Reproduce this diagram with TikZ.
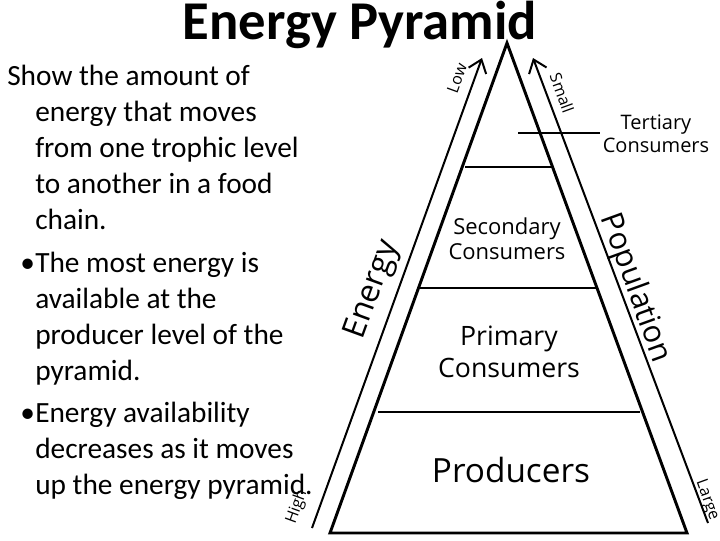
\documentclass[tikz,border=0pt]{standalone}
\usepackage{fontspec}
\setmainfont{Carlito}
\newfontfamily\cf{Open Sans}
\usetikzlibrary{arrows.meta}
\begin{document}
\begin{tikzpicture}[x=0.75pt,y=-0.75pt,
  side/.style={line width=2.2pt,line join=miter},
  lvl/.style={line width=1.8pt},
  arr/.style={line width=1.5pt,-{Straight Barb[length=9pt,width=14pt,line width=1.5pt]}},
  body/.style={anchor=base west,font=\fontsize{22}{22}\selectfont,inner sep=0pt},
  lab/.style={font=\cf\fontsize{#1}{#1}\selectfont,align=center,inner sep=0pt},
  lab/.default=17]
\useasboundingbox (0,0) rectangle (720,540);
\node[font=\bfseries\fontsize{41}{41}\selectfont,inner sep=0pt] (title) at (360,25) {Energy Pyramid};
\foreach \t/\x/\y in {{Show the amount of}/7/85,{energy that moves}/35/121,{from one trophic level}/35/157,{to another in a food}/35/193,{chain.}/35/229,{The most energy is}/35/272,{available at the}/35/308,{producer level of the}/35/344,{pyramid.}/35/380,{Energy availability}/35/422,{decreases as it moves}/35/458,{up the energy pyramid.}/35/494}
  \node[body] at (\x,\y) {\t};
\node[body] (b1) at (20,272) {•};
\node[body] (b2) at (20,422) {•};
\coordinate (apex) at (507,43);
\coordinate (bl) at (330,533);
\coordinate (br) at (687,533);
\draw[side] (apex) -- (bl) -- (br) -- cycle;
\draw[lvl] (465,167) -- (552,167);
\draw[lvl] (420,288) -- (597,288);
\draw[lvl] (378,412) -- (640,412);
\draw[line width=1.3pt] (518,133) -- (600,133);
\coordinate (la) at (312,528); \coordinate (lb) at (482,58);
\coordinate (ra) at (708,523); \coordinate (rb) at (533,58);
\draw[arr] (la) -- (lb);
\draw[arr] (ra) -- (rb);
\node[lab=25] (prod) at (511,470) {Producers};
\node[lab=20] (prim) at (509,352) {Primary\\[4pt]Consumers};
\node[lab=16.5] (sec) at (507,239) {Secondary\\[2pt]Consumers};
\node[lab=15] (ter) at (656,134) {Tertiary\\[2pt]Consumers};
\node[lab=24,rotate=70] (en) at (373,290) {Energy};
\node[lab=12,rotate=70] (low) at (457,78) {Low};
\node[lab=12,rotate=70] (high) at (297,507) {High};
\node[lab=23,rotate=-70] (pop) at (635,288) {Population};
\node[lab=12,rotate=-70] (small) at (562,93) {Small};
\node[lab=12,rotate=-70] (large) at (707,500) {Large};
\end{tikzpicture}
\end{document}
